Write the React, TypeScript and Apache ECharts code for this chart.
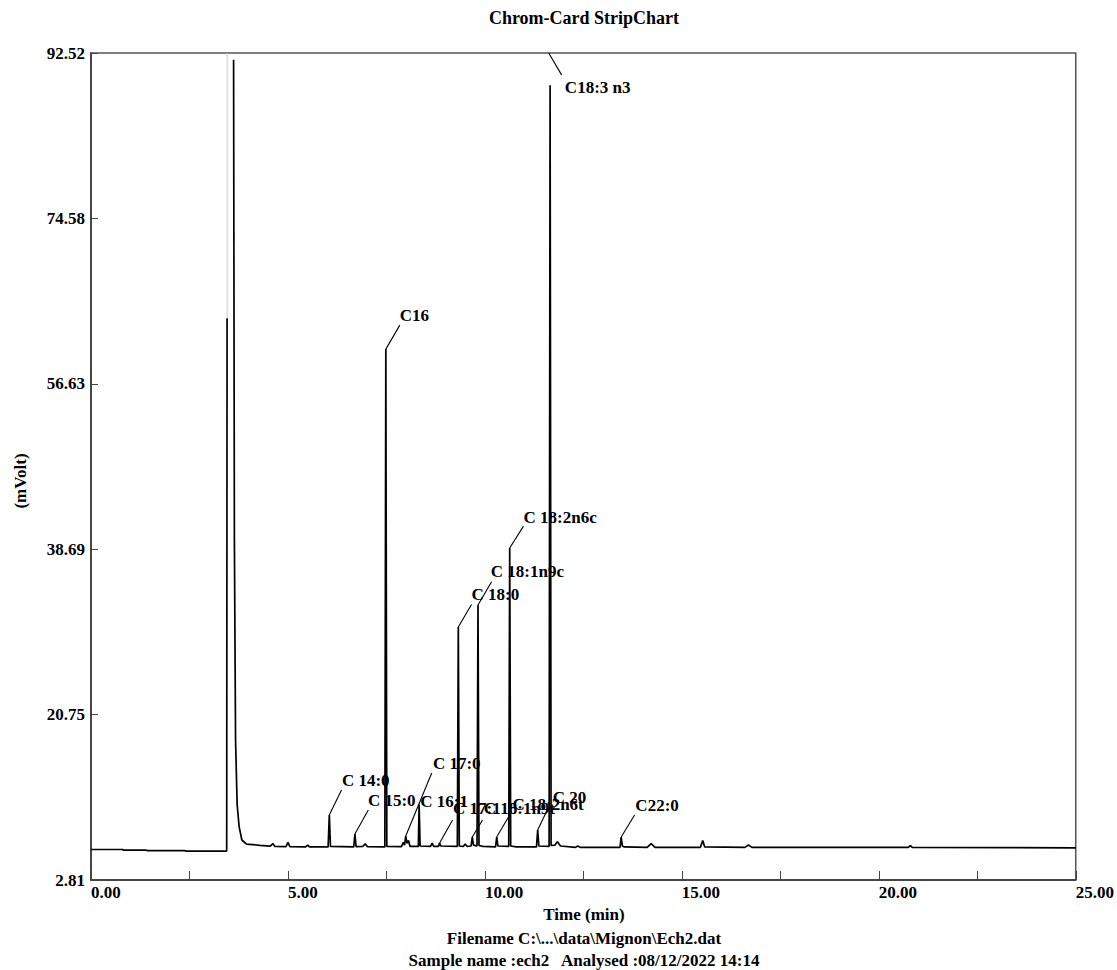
import React, { useEffect, useRef } from "react";
import * as echarts from "echarts";

// ---- axis ticks ----
const yTicks = [2.81, 20.75, 38.69, 56.63, 74.58, 92.52];
const xTicks = [0, 2.5, 5, 7.5, 10, 12.5, 15, 17.5, 20, 22.5, 25];
const xLabelValues = [0, 5, 10, 15, 20, 25];

// ---- chromatogram trace (time min, mVolt) ----
const preSolvent: [number, number][] = [
  [0.0, 6.12], [0.8, 6.12], [0.82, 6.05], [1.4, 6.05], [1.42, 6.0], [2.38, 6.0],
  [2.4, 5.95], [3.445, 5.95], [3.455, 63.76],
];
const solventOffScale: [number, number][] = [[3.455, 63.76], [3.455, 92.52]];
const trace: [number, number][] = [
  [3.62, 91.8], [3.64, 40.0], [3.67, 18.0], [3.71, 11.0], [3.76, 8.6], [3.83, 7.15],
  [3.95, 6.71], [4.29, 6.57], [4.55, 6.48], [4.62, 6.75], [4.67, 6.45], [4.95, 6.42],
  [5.0, 6.9], [5.05, 6.42], [5.45, 6.4], [5.5, 6.6], [5.55, 6.4], [6.02, 6.4],
  [6.05, 9.86], [6.08, 6.45], [6.67, 6.4], [6.7, 7.8], [6.73, 6.42], [6.9, 6.45],
  [6.96, 6.75], [7.02, 6.42], [7.46, 6.4], [7.485, 60.4], [7.51, 6.45], [7.88, 6.42],
  [7.93, 6.9], [7.96, 6.6], [7.99, 7.58], [8.02, 6.8], [8.06, 7.1], [8.1, 6.45],
  [8.31, 6.45], [8.33, 11.0], [8.355, 6.5], [8.62, 6.45], [8.66, 6.8], [8.7, 6.45],
  [8.82, 6.45], [8.85, 6.82], [8.88, 6.5], [9.3, 6.45], [9.325, 30.25], [9.35, 6.5],
  [9.45, 6.45], [9.5, 6.7], [9.55, 6.45], [9.65, 6.5], [9.68, 7.47], [9.71, 6.6],
  [9.8, 6.5], [9.825, 32.64], [9.85, 6.55], [9.95, 6.45], [10.27, 6.4], [10.3, 7.47],
  [10.33, 6.5], [10.605, 6.45], [10.63, 38.82], [10.655, 6.5], [10.8, 6.4], [11.31, 6.4],
  [11.34, 8.23], [11.37, 6.5], [11.63, 6.45], [11.655, 89.03], [11.68, 6.55], [11.78, 6.6],
  [11.84, 6.95], [11.92, 6.5], [12.3, 6.35], [12.36, 6.5], [12.42, 6.35], [13.43, 6.35],
  [13.46, 7.47], [13.49, 6.5], [13.54, 6.4], [14.12, 6.35], [14.22, 6.75], [14.32, 6.35],
  [15.47, 6.35], [15.53, 7.1], [15.58, 6.4], [16.6, 6.35], [16.69, 6.6], [16.78, 6.35],
  [20.75, 6.35], [20.8, 6.55], [20.85, 6.35], [25.0, 6.3],
];

// ---- peak annotations ----
const annNames = [
  "C 14:0", "C 15:0", "C16", "C 17:0", "C 16:1", "C 17:1", "C 18:0", "C 18:1n9t",
  "C 18:1n9c", "C 18:2n6t", "C 18:2n6c", "C 20", "C18:3 n3", "C22:0",
];
const annApex: [number, number][] = [
  [6.05, 9.86], [6.7, 7.8], [7.485, 60.4], [7.99, 7.58], [8.33, 11.0], [8.85, 6.82],
  [9.325, 30.25], [9.68, 7.47], [9.825, 32.64], [10.3, 7.47], [10.63, 38.82],
  [11.34, 8.23], [11.62, 92.52], [13.46, 7.47],
];
const annLeaderEnd: [number, number][] = [
  [6.36, 12.57], [7.04, 10.4], [7.84, 63.0], [8.65, 14.41], [8.33, 11.0], [9.18, 9.32],
  [9.66, 32.7], [9.94, 9.32], [10.17, 35.16], [10.63, 9.86], [10.98, 41.2],
  [11.62, 10.73], [11.95, 90.12], [13.8, 9.86],
];
const annLabelAt: [number, number][] = [
  [6.37, 13.55], [7.03, 11.38], [7.84, 64.08], [8.68, 15.5], [8.36, 11.3], [9.19, 10.62],
  [9.66, 33.83], [9.97, 10.62], [10.15, 36.25], [10.7, 11.05], [10.98, 42.18],
  [11.72, 11.81], [12.03, 88.82], [13.82, 10.94],
];

const FONT = "Liberation Serif";
const font = (size: number) => `bold ${size}px "${FONT}"`;

export default function App() {
  const ref = useRef<HTMLDivElement>(null);
  useEffect(() => {
    if (!ref.current) return;
    const chart = echarts.init(ref.current, undefined, { renderer: "svg" });
    const lineStyle = { color: "#000", width: 1.7 };
    chart.setOption({
      animation: false,
      backgroundColor: "#fff",
      grid: {
        left: 91, right: 40, top: 53, bottom: 90,
        show: true, borderColor: "#555", borderWidth: 1.5,
      },
      xAxis: {
        type: "value", min: 0, max: 25,
        axisLine: { show: true, onZero: false, lineStyle: { color: "#333", width: 1.5 } },
        axisTick: { show: true, inside: true, length: 9, customValues: xTicks, lineStyle: { color: "#444", width: 1 } },
        axisLabel: {
          show: true, customValues: xLabelValues, align: "left", margin: 4,
          formatter: (v: number) => v.toFixed(2),
          fontFamily: FONT, fontWeight: "bold", fontSize: 17, color: "#000",
        },
        splitLine: { show: false },
      },
      yAxis: {
        type: "value", min: 2.81, max: 92.52,
        axisLine: { show: true, lineStyle: { color: "#333", width: 1.5 } },
        axisTick: { show: true, inside: true, length: 7, customValues: yTicks, lineStyle: { color: "#444", width: 1 } },
        axisLabel: {
          show: true, customValues: yTicks, margin: 6,
          formatter: (v: number) => v.toFixed(2),
          fontFamily: FONT, fontWeight: "bold", fontSize: 17, color: "#000",
        },
        splitLine: { show: false },
      },
      graphic: [
        { type: "text", x: 584, y: 18, style: { text: "Chrom-Card StripChart", font: font(18), fill: "#000", align: "center", verticalAlign: "middle" } },
        { type: "text", x: 20, y: 481, rotation: Math.PI / 2, style: { text: "(mVolt)", font: font(17), fill: "#000", align: "center", verticalAlign: "middle" } },
        { type: "text", x: 584, y: 914, style: { text: "Time (min)", font: font(17), fill: "#000", align: "center", verticalAlign: "middle" } },
        { type: "text", x: 584, y: 938, style: { text: "Filename C:\\...\\data\\Mignon\\Ech2.dat", font: font(17), fill: "#000", align: "center", verticalAlign: "middle" } },
        { type: "text", x: 584, y: 960, style: { text: "Sample name :ech2   Analysed :08/12/2022 14:14", font: font(17), fill: "#000", align: "center", verticalAlign: "middle" } },
      ],
      series: [
        { type: "line", data: preSolvent, showSymbol: false, symbol: "none", lineStyle, silent: true },
        { type: "line", data: solventOffScale, showSymbol: false, symbol: "none", lineStyle: { color: "#c8c8c8", width: 1 }, silent: true },
        { type: "line", data: trace, showSymbol: false, symbol: "none", lineStyle, silent: true },
        {
          type: "lines", coordinateSystem: "cartesian2d", silent: true,
          data: annApex.map((a, i) => ({ coords: [a, annLeaderEnd[i]] })),
          lineStyle: { color: "#000", width: 1.1, opacity: 1 },
        },
        {
          type: "scatter", symbolSize: 0, silent: true,
          itemStyle: { color: "#000" },
          data: annLabelAt.map((p, i) => ({ value: p, name: annNames[i] })),
          label: {
            show: true, position: "right", distance: 0, formatter: "{b}",
            fontFamily: FONT, fontWeight: "bold", fontSize: 17, color: "#000",
            textBorderWidth: 0, opacity: 1,
          },
        },
      ],
    });
    return () => chart.dispose();
  }, []);
  return <div ref={ref} style={{ position: "absolute", left: 0, top: 0, width: 1117, height: 970 }} />;
}
